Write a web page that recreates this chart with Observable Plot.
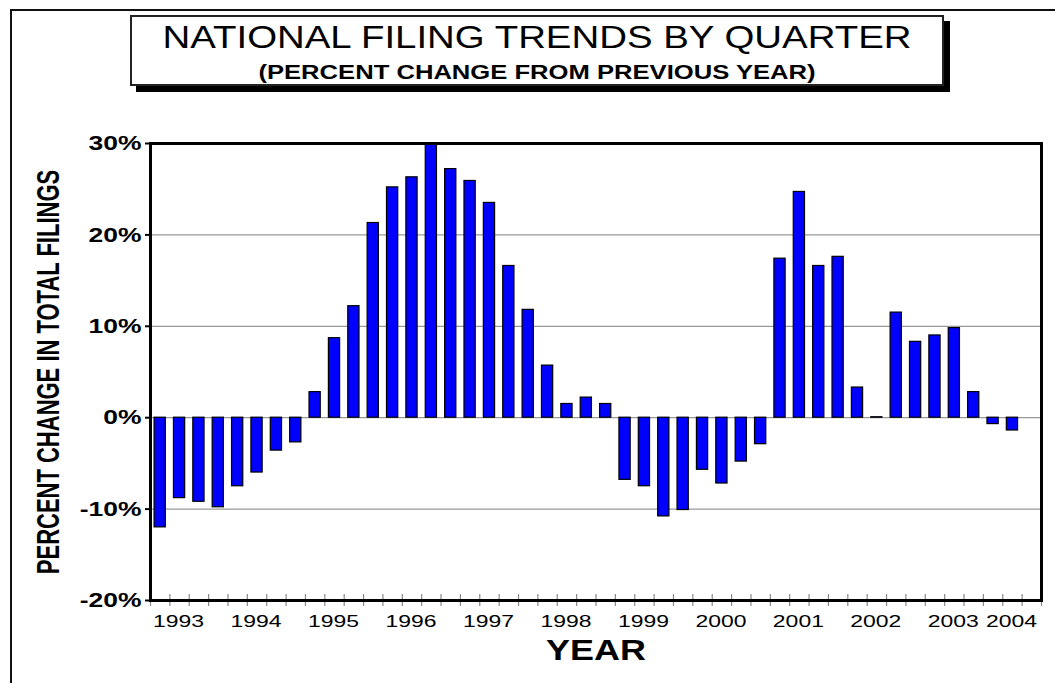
<!DOCTYPE html>
<html><head><meta charset="utf-8">
<script src="https://cdn.jsdelivr.net/npm/d3@7"></script>
<script src="https://cdn.jsdelivr.net/npm/@observablehq/plot@0.6"></script>
<style>
html,body{margin:0;padding:0;background:#fff;}
#page{position:relative;width:1055px;height:683px;overflow:hidden;background:#fff;font-family:"Liberation Sans",Arial,sans-serif;}
#frame{position:absolute;left:10px;top:9px;width:1100px;height:700px;border-top:2px solid #111;border-left:2px solid #111;z-index:2;pointer-events:none;}
#tbox{position:absolute;left:130px;top:15px;width:810px;height:67px;border:2px solid #222;box-shadow:6px 6px 0 #000;background:#fff;}
.t{position:absolute;left:130px;width:814px;text-align:center;white-space:nowrap;color:#000;line-height:1;transform-origin:50% 50%;}
#title{top:21px;font-size:32px;transform:scaleX(1.2);}
#sub{top:62px;font-size:20px;font-weight:bold;transform:scaleX(1.28);}
#chart{position:absolute;left:0;top:110px;}
</style></head><body>
<div id="page"><div id="frame"></div><div id="tbox"></div>
<div class="t" id="title">NATIONAL FILING TRENDS BY QUARTER</div>
<div class="t" id="sub">(PERCENT CHANGE FROM PREVIOUS YEAR)</div>
<div id="chart"></div></div>
<script>
const years = ["1993","1994","1995","1996","1997","1998","1999","2000","2001","2002","2003","2004"];
// quarterly percent change, 1993 Q1 .. 2004 Q1
const values = [
  -12.0, -8.8, -9.2, -9.8,
  -7.5, -6.0, -3.6, -2.7,
  2.8, 8.7, 12.2, 21.3,
  25.2, 26.3, 30.0, 27.2,
  25.9, 23.5, 16.6, 11.8,
  5.7, 1.5, 2.2, 1.5,
  -6.8, -7.5, -10.8, -10.1,
  -5.7, -7.2, -4.8, -2.9,
  17.4, 24.7, 16.6, 17.6,
  3.3, 0.05, 11.5, 8.3,
  9.0, 9.8, 2.8, -0.7,
  -1.4
];
const yTicks = [-20, -10, 0, 10, 20, 30];
const gridValues = [-10, 0, 10, 20];
const yTitle = "PERCENT CHANGE IN TOTAL FILINGS";
const xTitle = "YEAR";

const bars = values.map((v, i) => ({i, year: years[Math.floor(i / 4)], q: i % 4 + 1, v}));
const nSlots = values.length + 1;
const yearLabels = years.map((y, k) => ({year: y, i: Math.min(4 * k + 1, values.length - 1)}));

const font = "Liberation Sans, Arial, sans-serif";
const plot = Plot.plot({
  width: 1055, height: 573,
  marginLeft: 150, marginRight: 14, marginTop: 33, marginBottom: 83,
  style: {fontFamily: font, background: "transparent", overflow: "visible", color: "black"},
  x: {domain: [0, nSlots], axis: null},
  y: {domain: [-20, 30], axis: null},
  marks: [
    Plot.ruleY(gridValues, {stroke: "#999", strokeWidth: 1.2}),
    Plot.ruleX(d3.range(0, nSlots + 1), {y1: -20.65, y2: -19.35, stroke: "#888", strokeWidth: 1.2}),
    Plot.rectY(bars, {x1: d => d.i + 0.21, x2: d => d.i + 0.79, y1: 0, y2: "v", fill: "#0000ff", stroke: "#000", strokeWidth: 1.2}),
    Plot.frame({stroke: "#000", strokeWidth: 3}),
    Plot.axisY(yTicks, {tickFormat: d => d + "%", tickSize: 5, tickPadding: 4, fontSize: 21, fontWeight: "bold", stroke: "#000", strokeWidth: 2, label: null}),
    Plot.text(yearLabels, {x: d => d.i + 0.5, text: "year", frameAnchor: "bottom", lineAnchor: "middle", textAnchor: "middle", dy: 21, dx: -1, fontSize: 17, fill: "#000", ariaDescription: "yearlabel"}),
    Plot.text([yTitle], {text: d => d, frameAnchor: "left", textAnchor: "middle", lineAnchor: "middle", dx: -101.5, rotate: -90, fontSize: 22, fontWeight: "bold", fill: "#000", ariaDescription: "ytitle"}),
    Plot.text([xTitle], {text: d => d, frameAnchor: "bottom", textAnchor: "middle", lineAnchor: "middle", dy: 50.5, fontSize: 29, fontWeight: "bold", fill: "#000", ariaDescription: "xtitle"})
  ]
});

function stretch(svg, sel, sx, sy) {
  d3.select(svg).selectAll(sel).each(function () {
    const t = this.getAttribute("transform");
    if (t) this.setAttribute("transform", t + ` scale(${sx},${sy})`);
    else {
      const x = +this.getAttribute("x") || 0, y = +this.getAttribute("y") || 0;
      this.removeAttribute("x"); this.removeAttribute("y");
      this.setAttribute("transform", `translate(${x},${y}) scale(${sx},${sy})`);
    }
  });
}
stretch(plot, 'g[aria-label="y-axis tick label"] text', 1.26, 1);
stretch(plot, 'g[aria-description="yearlabel"] text', 1.35, 1);
stretch(plot, 'g[aria-description="ytitle"] text', 1, 1.4);
stretch(plot, 'g[aria-description="xtitle"] text', 1.24, 1);

document.getElementById("chart").appendChild(plot);
</script>
</body></html>
